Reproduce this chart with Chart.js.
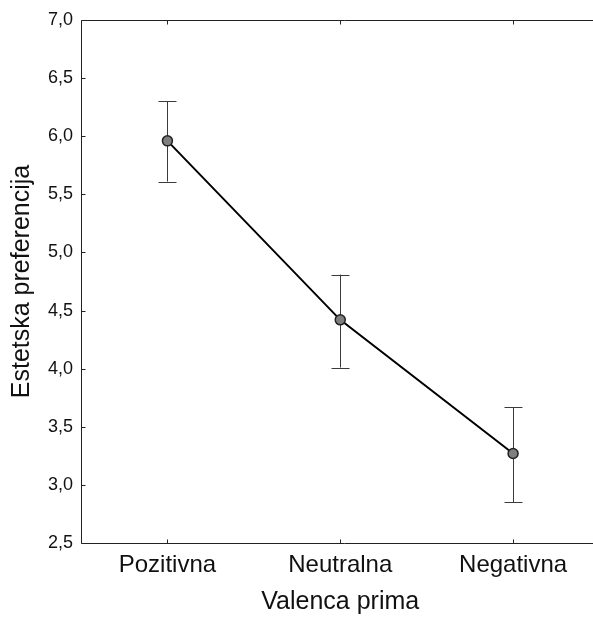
<!DOCTYPE html>
<html>
<head>
<meta charset="utf-8">
<script src="https://cdn.jsdelivr.net/npm/chart.js@4.4.1/dist/chart.umd.min.js"></script>
<style>
  html, body { margin: 0; padding: 0; background: #fff; overflow: hidden; }
  #wrap { width: 593px; height: 617px; overflow: hidden; position: relative; }
  #c { display: block; }
</style>
</head>
<body>
<div id="wrap"><canvas id="c" width="606" height="617"></canvas></div>
<script>
const categories = ["Pozitivna", "Neutralna", "Negativna"];
const means = [5.96, 4.42, 3.27];
const upper = [6.30, 4.81, 3.67];
const lower = [5.61, 4.01, 2.85];
const yTicks = [2.5, 3.0, 3.5, 4.0, 4.5, 5.0, 5.5, 6.0, 6.5, 7.0];
const xTitle = "Valenca prima";
const yTitle = "Estetska preferencija";

const FONT = "'Liberation Sans', Arial, sans-serif";

const framePlugin = {
  id: 'frame',
  beforeDatasetsDraw(chart) {
    const ctx = chart.ctx;
    const xs = chart.scales.x, ys = chart.scales.y;
    ctx.save();
    ctx.strokeStyle = '#3a3a3a';
    ctx.lineWidth = 1;
    for (let i = 0; i < categories.length; i++) {
      const x = Math.round(xs.getPixelForValue(i)) + 0.5;
      const yt = ys.getPixelForValue(upper[i]);
      const yb = ys.getPixelForValue(lower[i]);
      ctx.beginPath();
      ctx.moveTo(x, yt); ctx.lineTo(x, yb);
      ctx.moveTo(x - 9, Math.round(yt) + 0.5); ctx.lineTo(x + 9, Math.round(yt) + 0.5);
      ctx.moveTo(x - 9, Math.round(yb) + 0.5); ctx.lineTo(x + 9, Math.round(yb) + 0.5);
      ctx.stroke();
    }
    ctx.restore();
  },
  afterDraw(chart) {
    const ctx = chart.ctx;
    const a = chart.chartArea;
    const xs = chart.scales.x, ys = chart.scales.y;
    ctx.save();
    ctx.strokeStyle = '#222';
    ctx.lineWidth = 1;
    const L = Math.round(a.left) + 0.5, T = Math.round(a.top) + 0.5;
    const B = Math.round(a.bottom) + 0.5, R = chart.width + 2;
    ctx.beginPath();
    ctx.moveTo(R, T); ctx.lineTo(L, T); ctx.lineTo(L, B); ctx.lineTo(R, B);
    ctx.stroke();
    ctx.beginPath();
    ys.ticks.forEach((t, i) => {
      const y = Math.round(ys.getPixelForTick(i)) + 0.5;
      ctx.moveTo(L, y); ctx.lineTo(L + 4, y);
    });
    xs.ticks.forEach((t, i) => {
      const x = Math.round(xs.getPixelForTick(i)) + 0.5;
      ctx.moveTo(x, B); ctx.lineTo(x, B - 4);
      ctx.moveTo(x, T); ctx.lineTo(x, T + 4);
    });
    ctx.stroke();
    ctx.restore();
  }
};

new Chart(document.getElementById('c'), {
  type: 'line',
  data: {
    labels: categories,
    datasets: [{
      data: means,
      borderColor: '#000',
      borderWidth: 2,
      pointRadius: 5,
      pointBackgroundColor: '#7f7f7f',
      pointBorderColor: '#222',
      pointBorderWidth: 1.5,
      tension: 0,
      fill: false
    }]
  },
  options: {
    responsive: false,
    animation: false,
    layout: { padding: { top: 20, right: 0, left: 0, bottom: 0 } },
    plugins: { legend: { display: false }, tooltip: { enabled: false } },
    scales: {
      x: {
        offset: true,
        grid: { display: false, drawTicks: false },
        border: { display: false },
        ticks: { color: '#111', padding: 8, font: { family: FONT, size: 24 } },
        title: { display: true, text: xTitle, color: '#111', padding: { top: 0, bottom: 0 }, font: { family: FONT, size: 25 } },
        afterFit(s) { s.height = 74; }
      },
      y: {
        min: 2.5, max: 7.0,
        afterBuildTicks(s) { s.ticks = yTicks.map(v => ({ value: v })); },
        grid: { display: false, drawTicks: false },
        border: { display: false },
        ticks: {
          color: '#111', padding: 8, font: { family: FONT, size: 18 },
          callback: v => v.toFixed(1).replace('.', ',')
        },
        title: { display: true, text: yTitle, color: '#111', padding: { top: 7, bottom: 0 }, font: { family: FONT, size: 25 } },
        afterFit(s) { s.width = 81; }
      }
    }
  },
  plugins: [framePlugin]
});
</script>
</body>
</html>
